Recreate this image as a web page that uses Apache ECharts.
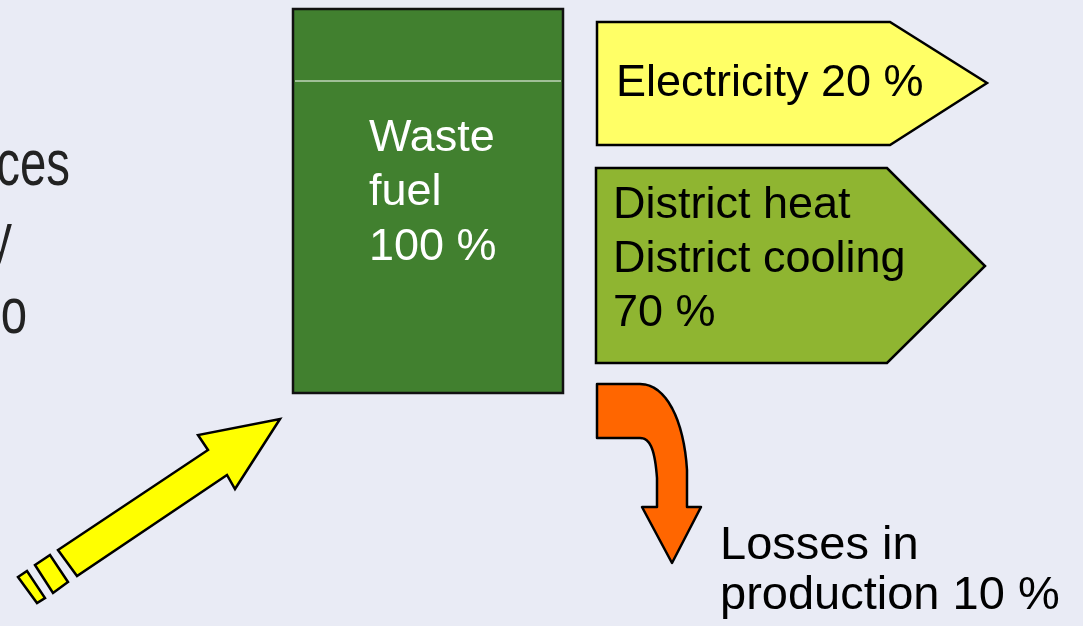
<!DOCTYPE html>
<html>
<head>
<meta charset="UTF-8">
<title>Waste fuel energy flow</title>
<style>
  html, body { margin: 0; padding: 0; background: #e9ebf5; }
  #main { width: 1083px; height: 626px; }
</style>
</head>
<body>
<div id="main"></div>
<script src="https://cdn.jsdelivr.net/npm/echarts@6/dist/echarts.min.js"></script>
<script>
// data
var inputLines = ['Waste', 'fuel'];
var inputShare = 100;
var outputNames = [['Electricity'], ['District heat', 'District cooling'], ['Losses in', 'production']];
var outputShares = [20, 70, 10];
var sideText = ['ces', 'y', 'o'];   // cut-off text at the left edge

var chart = echarts.init(document.getElementById('main'));

// one text element per line, y is the baseline
function textLine(str, x, base, color, size) {
  size = size || 45;
  return {
    type: 'text', x: x, y: base - size * 0.33, silent: true,
    style: { text: str, font: size + 'px "Liberation Sans", Arial, sans-serif', fill: color, textAlign: 'left', verticalAlign: 'middle' }
  };
}

// cubic bezier -> list of points (for the curved arrow outline)
function bez(p0, p1, p2, p3) {
  var pts = [];
  for (var i = 0; i <= 16; i++) {
    var t = i / 16, u = 1 - t;
    pts.push([
      u * u * u * p0[0] + 3 * u * u * t * p1[0] + 3 * u * t * t * p2[0] + t * t * t * p3[0],
      u * u * u * p0[1] + 3 * u * u * t * p1[1] + 3 * u * t * t * p2[1] + t * t * t * p3[1]
    ]);
  }
  return pts;
}

var els = [];

// left text fragments
var sideX = [70, 12, 27], sideBase = [199, 272, 347];
sideText.forEach(function (t, i) {
  els.push({
    type: 'text', x: sideX[i], y: sideBase[i], scaleX: 0.74, silent: true,
    style: { text: t, font: '64px "Liberation Sans", Arial, sans-serif', fill: '#222', textAlign: 'right', verticalAlign: 'bottom' }
  });
});

// input box
els.push({ type: 'rect', shape: { x: 293, y: 9, width: 270, height: 384 },
  style: { fill: '#41802f', stroke: '#111', lineWidth: 2.5 }, silent: true });
els.push({ type: 'line', shape: { x1: 295, y1: 81, x2: 561, y2: 81 }, style: { stroke: '#ffffff', lineWidth: 1 }, silent: true });
var boxLines = inputLines.concat([inputShare + ' %']);
boxLines.forEach(function (t, i) { els.push(textLine(t, 369, 153 + i * 54.5, '#ffffff')); });

// electricity arrow
els.push({ type: 'polygon', shape: { points: [[597, 22], [890, 22], [987, 83], [890, 145], [597, 145]] },
  style: { fill: '#ffff66', stroke: '#000', lineWidth: 2.5 }, silent: true });
els.push(textLine(outputNames[0][0] + ' ' + outputShares[0] + ' %', 616, 98, '#000'));

// district heat / cooling arrow
els.push({ type: 'polygon', shape: { points: [[596, 168], [887, 168], [985, 266], [887, 363], [596, 363]] },
  style: { fill: '#8fb531', stroke: '#000', lineWidth: 2.5 }, silent: true });
var dhLines = outputNames[1].concat([outputShares[1] + ' %']);
dhLines.forEach(function (t, i) { els.push(textLine(t, 613, 220 + i * 54, '#000')); });

// losses curved arrow
var lossPts = [[597, 384]]
  .concat(bez([640, 384], [666, 384], [684, 420], [687, 470]))
  .concat([[687, 507], [701, 507], [672, 563], [642, 507], [657, 507]])
  .concat(bez([657, 478], [655, 452], [651, 438], [640, 438]))
  .concat([[597, 438]]);
els.push({ type: 'polygon', silent: true, shape: { points: lossPts },
  style: { fill: '#ff6600', stroke: '#000', lineWidth: 2.5, lineJoin: 'round' } });
els.push(textLine(outputNames[2][0], 720, 562, '#000', 47));
els.push(textLine(outputNames[2][1] + ' ' + outputShares[2] + ' %', 720, 612, '#000', 47));

// incoming yellow arrow
els.push({ type: 'polygon', silent: true,
  shape: { points: [[280, 419], [235, 489], [227, 475], [77, 576], [58, 550], [208, 450], [198, 435]] },
  style: { fill: '#ffff00', stroke: '#000', lineWidth: 2.5 } });
els.push({ type: 'polygon', silent: true, shape: { points: [[35, 565], [50, 555], [68, 582], [53, 593]] },
  style: { fill: '#ffff00', stroke: '#000', lineWidth: 2.5 } });
els.push({ type: 'polygon', silent: true, shape: { points: [[18, 577], [27, 571], [45, 598], [37, 603]] },
  style: { fill: '#ffff00', stroke: '#000', lineWidth: 2.5 } });

chart.setOption({
  backgroundColor: '#e9ebf5',
  animation: false,
  graphic: { elements: els }
});
</script>
</body>
</html>
